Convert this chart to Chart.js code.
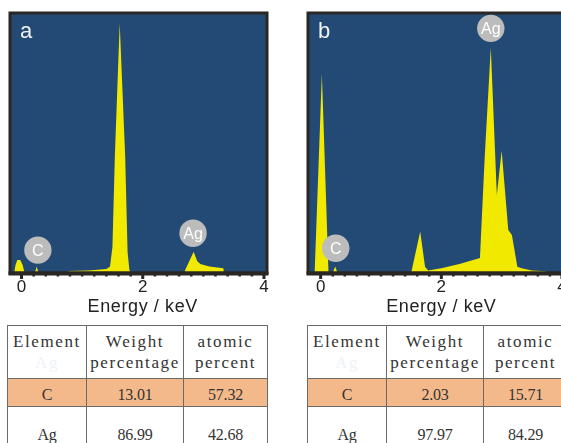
<!DOCTYPE html>
<html><head><meta charset="utf-8">
<script src="https://cdn.jsdelivr.net/npm/chart.js@4"></script>
<style>
html,body{margin:0;padding:0;background:#fff;width:561px;height:443px;overflow:hidden;position:relative;}
canvas{position:absolute;top:0;}
#ca{left:0}
#cb{left:280px}
table{position:absolute;border-collapse:collapse;font-family:"Liberation Serif","Times New Roman",serif;color:#333;table-layout:fixed;}
td{border:1px solid #6a6a6a;text-align:center;padding:0;font-size:16px;line-height:21px;letter-spacing:-0.2px;}
tr.hd td{height:53px;vertical-align:top;padding-top:5px;box-sizing:border-box;letter-spacing:1.6px;font-size:17px;}
tr.hl td{background:#f4b98a;height:28px;padding-top:3px;box-sizing:border-box;}
tr.nm td{height:54px;vertical-align:top;padding-top:17px;box-sizing:border-box;}
.ghost{color:#eef2f6;}
</style>
</head><body>
<canvas id="ca" width="280" height="320"></canvas>
<canvas id="cb" width="300" height="320"></canvas>
<table id="ta" style="left:7px;top:325px;width:260px;"></table>
<table id="tb" style="left:307px;top:325px;width:260px;"></table>
<script>
// ---- data ----
const energyA = [-0.19, -0.12, -0.10, -0.07, -0.02, 0.02, 0.05, 0.22, 0.25, 0.28, 0.76, 0.78, 1.10, 1.40, 1.46, 1.50, 1.54, 1.62, 1.71, 1.75, 1.78, 1.80, 2.69, 2.70, 2.84, 2.90, 2.95, 3.10, 3.33, 3.34, 4.05];
const countsA = [0, 0, 3, 5, 5, 3, 0, 0, 2.5, 0, 0, 0.8, 1, 1.5, 2.5, 10, 45, 96, 45, 8, 1.2, 0, 0, 1.2, 8.2, 4.5, 3.5, 2.5, 1.8, 0, 0];
const energyB = [-0.21, -0.10, 0.02, 0.13, 0.20, 0.24, 0.28, 1.50, 1.65, 1.73, 1.78, 2.00, 2.30, 2.64, 2.72, 2.82, 2.92, 3.00, 3.11, 3.17, 3.26, 3.33, 3.50, 3.73, 3.74, 4.05];
const countsB = [0, 0, 76.5, 0, 0, 2.5, 0, 0, 16, 2.4, 1, 1.8, 3.5, 5.8, 45, 86.7, 30, 47, 16.5, 14.6, 2.4, 1.8, 1, 0.7, 0, 0];
const tagsA = [{text:'C', x:0.27, y:8.8}, {text:'Ag', x:2.83, y:15.3}];
const tagsB = [{text:'Ag', x:2.82, y:94.1}, {text:'C', x:0.25, y:9.5}];
const tickLabels = [0, 2, 4];
const minorStep = 0.2;
const axisTitle = 'Energy / keV';
const headers = [['Element', 'Ag'], ['Weight', 'percentage'], ['atomic', 'percent']];
const elements = ['C', 'Ag'];
const weightA = [13.01, 86.99];
const atomicA = [57.32, 42.68];
const weightB = [2.03, 97.97];
const atomicB = [15.71, 84.29];

const BLUE = '#234a75', YELLOW = '#f1e900', INK = '#222';

const decor = {
  id: 'decor',
  beforeDraw(chart) {
    const a = chart.chartArea, c = chart.ctx;
    c.save(); c.fillStyle = BLUE; c.fillRect(a.left, a.top, a.right - a.left, a.bottom - a.top); c.restore();
  },
  afterDraw(chart) {
    const a = chart.chartArea, c = chart.ctx, o = chart.options.plugins.decor;
    const xs = chart.scales.x, ys = chart.scales.y;
    c.save();
    // frame
    c.strokeStyle = '#2a2624'; c.lineWidth = 3;
    c.strokeRect(a.left, a.top, a.right - a.left, a.bottom - a.top);
    c.fillStyle = '#2a2624';
    c.fillRect(a.left - 1.5, a.bottom - 1.5, a.right - a.left + 3, 4);
    // ticks
    xs.ticks.forEach(t => {
      const v = t.value;
      const px = xs.getPixelForValue(v);
      const major = tickLabels.some(m => Math.abs(m - v) < 1e-6);
      if (major) c.fillRect(px - 1.5, a.bottom, 3, 6);
      else c.fillRect(px - 1.25, a.bottom, 2.5, 3.5);
    });
    // axis title
    c.fillStyle = INK; c.font = '18px "Liberation Sans", Arial, sans-serif';
    c.textAlign = 'center'; c.textBaseline = 'alphabetic';
    c.letterSpacing = '0.6px';
    c.fillText(axisTitle, xs.getPixelForValue(2), 312);
    c.letterSpacing = '0px';
    // tags
    o.tags.forEach(t => {
      const px = xs.getPixelForValue(t.x), py = ys.getPixelForValue(t.y);
      c.beginPath(); c.arc(px, py, 13.7, 0, Math.PI * 2);
      c.fillStyle = '#bcbcbc'; c.fill();
      c.fillStyle = '#ffffff'; c.font = '16px "Liberation Sans", Arial, sans-serif';
      c.textAlign = 'center'; c.textBaseline = 'middle';
      c.fillText(t.text, px, py + 1);
    });
    // panel letter
    c.fillStyle = '#f2f2f2'; c.font = '22px "Liberation Sans", Arial, sans-serif';
    c.textAlign = 'left'; c.textBaseline = 'alphabetic';
    c.fillText(o.letter, a.left + 10, a.top + 25);
    c.restore();
  }
};

function makeChart(id, energy, counts, xmin, xmax, padL, padR, letter, tags) {
  return new Chart(document.getElementById(id), {
    type: 'line',
    data: { datasets: [{
      data: energy.map((e, i) => ({x: e, y: counts[i]})),
      borderWidth: 0, borderColor: YELLOW, backgroundColor: YELLOW,
      fill: 'origin', pointRadius: 0, tension: 0
    }]},
    options: {
      responsive: false, animation: false, events: [],
      layout: { padding: { left: padL, right: padR, top: 13, bottom: 0 } },
      plugins: { legend: {display: false}, tooltip: {enabled: false}, decor: { letter, tags } },
      scales: {
        x: {
          type: 'linear', min: xmin, max: xmax,
          grid: { display: false, drawTicks: false },
          border: { display: false },
          afterFit: s => { s.height = 47; },
          afterBuildTicks: s => {
            const lo = tickLabels[0], hi = tickLabels[tickLabels.length - 1];
            const n = Math.round((hi - lo) / minorStep);
            const arr = [];
            for (let i = 0; i <= n; i++) arr.push({ value: +(lo + i * minorStep).toFixed(4) });
            s.ticks = arr;
          },
          ticks: {
            autoSkip: false, maxRotation: 0, padding: 4,
            color: INK, font: { size: 17, family: '"Liberation Sans", Arial, sans-serif' },
            callback: v => { const m = tickLabels.find(t => Math.abs(t - v) < 1e-6); return m === undefined ? '' : String(m); }
          }
        },
        y: { display: false, min: 0, max: 100 }
      }
    },
    plugins: [decor]
  });
}

makeChart('ca', energyA, countsA, -0.19, 4.05, 10, 13, 'a', tagsA);
makeChart('cb', energyB, countsB, -0.21, 4.05, 28, 15, 'b', tagsB);

function buildTable(id, weight, atomic) {
  const t = document.getElementById(id);
  const cg = document.createElement('colgroup');
  [79, 97, 84].forEach(w => { const c = document.createElement('col'); c.style.width = w + 'px'; cg.appendChild(c); });
  t.appendChild(cg);
  const hr = t.insertRow(); hr.className = 'hd';
  headers.forEach((h, i) => {
    const td = hr.insertCell();
    td.innerHTML = i === 0 ? h[0] + '<br><span class="ghost">' + h[1] + '</span>' : h[0] + '<br>' + h[1];
  });
  elements.forEach((el, r) => {
    const tr = t.insertRow(); tr.className = r === 0 ? 'hl' : 'nm';
    [el, weight[r].toFixed(2), atomic[r].toFixed(2)].forEach(v => { const td = tr.insertCell(); td.textContent = v; });
  });
}
buildTable('ta', weightA, atomicA);
buildTable('tb', weightB, atomicB);
</script>
</body></html>
